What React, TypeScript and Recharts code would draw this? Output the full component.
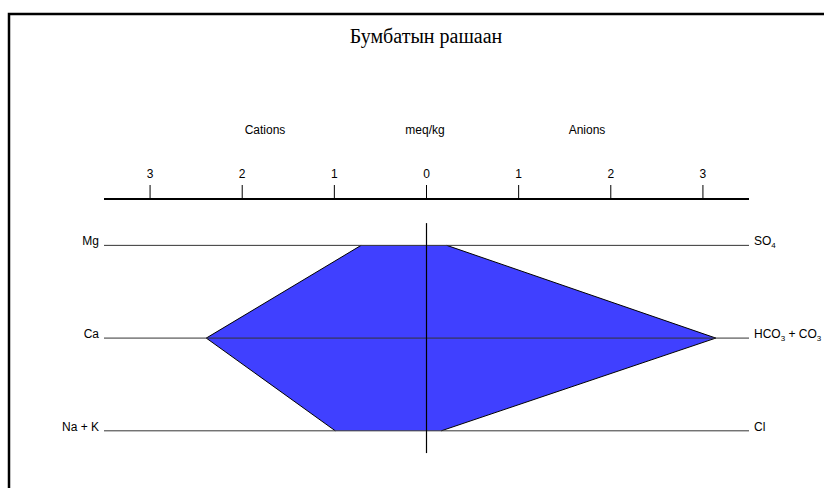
import { Area, ComposedChart, ReferenceLine, XAxis, YAxis } from "recharts";

const cations = ["Mg", "Ca", "Na + K"];
const anions = ["SO4", "HCO3 + CO3", "Cl"];
const cationValues = [0.71, 2.39, 0.99];
const anionValues = [0.22, 3.14, 0.16];
const rowLevels = [0, 1, 2];
const meqTicks = [-3, -2, -1, 0, 1, 2, 3];

const data = rowLevels.map((row, i) => ({
  row,
  range: [-cationValues[i], anionValues[i]],
}));

const FONT = "'Liberation Sans', Arial, sans-serif";

// digits in ion names are drawn as subscripts
function IonLabel({ x, y, text, anchor }: any) {
  const parts = String(text).split(/(\d)/).filter((p) => p !== "");
  let shifted = false;
  return (
    <text x={x} y={y} dy="0.35em" textAnchor={anchor} fontFamily={FONT} fontSize={12} fill="#000">
      {parts.map((p, i) => {
        if (/\d/.test(p)) {
          shifted = true;
          return (
            <tspan key={i} fontSize={8} dy={3}>
              {p}
            </tspan>
          );
        }
        const dy = shifted ? -3 : 0;
        shifted = false;
        return (
          <tspan key={i} dy={dy}>
            {p}
          </tspan>
        );
      })}
    </text>
  );
}

const LeftTick = (props: any) => {
  const idx = rowLevels.indexOf(props.payload.value);
  return <IonLabel x={props.x} y={props.y} text={cations[idx]} anchor="end" />;
};

const anionLabel = (idx: number) => (props: any) => {
  const vb = props.viewBox;
  return <IonLabel x={vb.x + vb.width + 5} y={vb.y} text={anions[idx]} anchor="start" />;
};

export default function App() {
  return (
    <div style={{ position: "absolute", left: 0, top: 0, width: 824, height: 488, overflow: "hidden", background: "#fff" }}>
      <ComposedChart
        width={824}
        height={488}
        data={data}
        layout="vertical"
        margin={{ top: 139, right: 75, bottom: 34, left: 0 }}
      >
        <rect x={9} y={14} width={900} height={600} fill="none" stroke="#000" strokeWidth={2.5} />
        <text x={426} y={43} textAnchor="middle" fontFamily="'Liberation Serif', 'Times New Roman', serif" fontSize={20} fill="#000">
          Бумбатын рашаан
        </text>
        <text x={265} y={134} textAnchor="middle" fontFamily={FONT} fontSize={12} fill="#000">
          Cations
        </text>
        <text x={425} y={134} textAnchor="middle" fontFamily={FONT} fontSize={12} fill="#000">
          meq/kg
        </text>
        <text x={587} y={134} textAnchor="middle" fontFamily={FONT} fontSize={12} fill="#000">
          Anions
        </text>
        <XAxis
          type="number"
          orientation="top"
          domain={[-3.5, 3.5]}
          allowDataOverflow
          ticks={meqTicks}
          tickFormatter={(v: number) => String(Math.abs(v))}
          height={60}
          tickSize={14}
          tickMargin={7}
          axisLine={{ stroke: "#000", strokeWidth: 2 }}
          tickLine={{ stroke: "#000", strokeWidth: 1 }}
          tick={{ fill: "#000", fontSize: 12, fontFamily: FONT }}
        />
        <YAxis
          type="number"
          dataKey="row"
          domain={[-0.5, 2.25]}
          allowDataOverflow
          ticks={rowLevels}
          width={104}
          axisLine={false}
          tickLine={false}
          tickSize={0}
          tickMargin={5}
          tick={LeftTick}
        />
        <Area
          type="linear"
          dataKey="range"
          fill="#4040ff"
          fillOpacity={1}
          stroke="#000"
          strokeWidth={1}
          dot={false}
          activeDot={false}
          isAnimationActive={false}
        />
        {rowLevels.map((r, i) => (
          <ReferenceLine key={r} y={r} stroke="#333" strokeWidth={1} label={anionLabel(i)} />
        ))}
        <ReferenceLine
          segment={[
            { x: 0, y: -0.24 },
            { x: 0, y: 2.24 },
          ]}
          stroke="#000"
          strokeWidth={1.2}
        />
      </ComposedChart>
    </div>
  );
}
